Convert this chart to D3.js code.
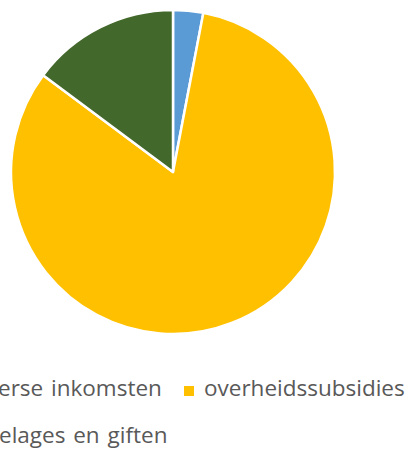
<!DOCTYPE html>
<html>
<head>
<meta charset="utf-8">
<script src="https://cdn.jsdelivr.net/npm/d3@7"></script>
<style>
  body { margin: 0; background: #fff; }
  svg { display: block; }
</style>
</head>
<body>
<div id="chart"></div>
<script>
// inkomsten verdeling
var categories = ["diverse inkomsten", "overheidssubsidies", "toelages en giften"];
var values = [3.0, 82.2, 14.8];
var colors = ["#5B9BD5", "#FFC000", "#43682B"];

var width = 410, height = 452;

var svg = d3.select("#chart")
  .append("svg")
  .attr("width", width)
  .attr("height", height);

var cx = 173, cy = 172, radius = 162;

var pie = d3.pie().sort(null).value(function(d){ return d; });
var arc = d3.arc().innerRadius(0).outerRadius(radius);

var color = d3.scaleOrdinal().domain(categories).range(colors);

var g = svg.append("g").attr("transform", "translate(" + cx + "," + cy + ")");

g.selectAll("path")
  .data(pie(values))
  .enter()
  .append("path")
  .attr("d", arc)
  .attr("fill", function(d, i){ return color(categories[i]); })
  .attr("stroke", "#fff")
  .attr("stroke-width", 2.5)
  .attr("stroke-linejoin", "round");

// legend (wraps over two rows, left part cut off like the original)
var fontSize = 22.5;
var legend = svg.append("g")
  .style("font-family", "'Open Sans', sans-serif")
  .style("font-size", fontSize + "px")
  .style("word-spacing", "2px")
  .attr("fill", "#595959");

function textWidth(s){
  var t = legend.append("text").text(s);
  var w = t.node().getComputedTextLength();
  t.remove();
  return w;
}

var row1 = 396, row2 = 443;
var item2X = 184;           // marker of "overheidssubsidies"

var items = [
  {i: 0, tx: -2 - textWidth("div"), y: row1},
  {i: 1, tx: item2X + 20, y: row1},
  {i: 2, tx: -1 - textWidth("to"), y: row2}
];
items.forEach(function(d){ d.mx = d.tx - 20; });
items[1].mx = item2X;

var li = legend.selectAll(".item")
  .data(items)
  .enter()
  .append("g")
  .attr("class", "item");

li.append("rect")
  .attr("x", function(d){ return d.mx; })
  .attr("y", function(d){ return d.y - 10; })
  .attr("width", 10)
  .attr("height", 10)
  .attr("fill", function(d){ return color(categories[d.i]); });

li.append("text")
  .attr("x", function(d){ return d.tx; })
  .attr("y", function(d){ return d.y; })
  .text(function(d){ return categories[d.i]; });
</script>
</body>
</html>
